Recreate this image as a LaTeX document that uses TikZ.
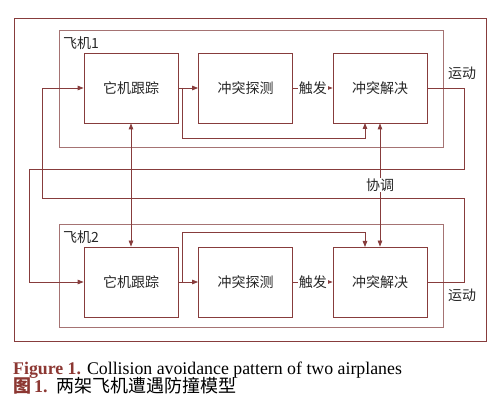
\documentclass[tikz,border=0pt]{standalone}
\usepackage{fontspec}
\setmainfont{Liberation Serif}
\newfontfamily\cjk{Noto Sans CJK SC}
\usetikzlibrary{arrows.meta}
\definecolor{ln}{RGB}{135,60,60}
\definecolor{pl}{RGB}{165,115,115}
\definecolor{capred}{RGB}{140,55,50}
\begin{document}
\begin{tikzpicture}[x=1pt,y=-1pt,
  blk/.style={draw=ln,line width=0.8pt,minimum width=94pt,minimum height=70pt,inner sep=0pt,font=\cjk\fontsize{14}{14}\selectfont,text=black!85},
  con/.style={draw=ln,line width=0.8pt},
  arr/.style={con,-{Triangle[length=6pt,width=4.5pt]}},
  darr/.style={con,{Triangle[length=6pt,width=4.5pt]}-{Triangle[length=6pt,width=4.5pt]}},
  lbl/.style={font=\cjk\fontsize{14}{14}\selectfont,text=black!85,inner sep=1pt},
  wlbl/.style={lbl,fill=white}]
\useasboundingbox (0,0) rectangle (499,409);
% outer frame
\draw[ln,line width=1pt] (14,19) rectangle (486,342);
% plane frames
\draw[pl,line width=0.8pt] (59,30) rectangle (443,147);
\draw[pl,line width=0.8pt] (59,224) rectangle (443,327);
\node[lbl,anchor=west] (p1) at (62,43) {飞机1};
\node[lbl,anchor=west] (p2) at (62,237) {飞机2};
% blocks
\node[blk] (a1) at (131,88) {它机跟踪};
\node[blk] (b1) at (245.5,88) {冲突探测};
\node[blk] (c1) at (380,88) {冲突解决};
\node[blk] (a2) at (131,282) {它机跟踪};
\node[blk] (b2) at (245.5,282) {冲突探测};
\node[blk] (c2) at (380,282) {冲突解决};
% coordinates
\coordinate (j1) at (182,88);
\coordinate (j2) at (182,282);
\coordinate (c1in) at (365,123);
\coordinate (c2in) at (365,247);
% plane 1 internal
\draw[arr] (a1) -- (b1);
\draw[arr] (j1) -- (182,138) -- (365,138) -- (c1in);
\draw[arr] (b1) -- node[wlbl] (t1) {触发} (c1);
% plane 2 internal
\draw[arr] (a2) -- (b2);
\draw[arr] (j2) -- (182,232) -- (365,232) -- (c2in);
\draw[arr] (b2) -- node[wlbl] (t2) {触发} (c2);
% cross links
\draw[arr] (c1.east) -- (464,88) -- (464,169) -- (29,169) -- (29,282) -- (a2.west);
\draw[arr] (c2.east) -- (464,282) -- (464,198) -- (42,198) -- (42,88) -- (a1.west);
\draw[darr] (a1.south) -- (a2.north);
\draw[darr] (c1.south) -- node[wlbl,pos=0.5] (xt) {协调} (c2.north);
\node[lbl] (m1) at (462,73) {运动};
\node[lbl] (m2) at (462,295) {运动};
% captions
\node[anchor=base west,inner sep=0pt,font=\fontsize{17.8}{18}\selectfont] (cap1) at (13,374)
  {\textcolor{capred}{\textbf{Figure 1.}} Collision avoidance pattern of two airplanes};
\node[anchor=base west,inner sep=0pt,font=\fontsize{18}{18}\selectfont] (cap2) at (13,393)
  {\textcolor{capred}{\cjk\bfseries 图\,\rmfamily\bfseries 1.}\ \ {\cjk 两架飞机遭遇防撞模型}};
\end{tikzpicture}
\end{document}
